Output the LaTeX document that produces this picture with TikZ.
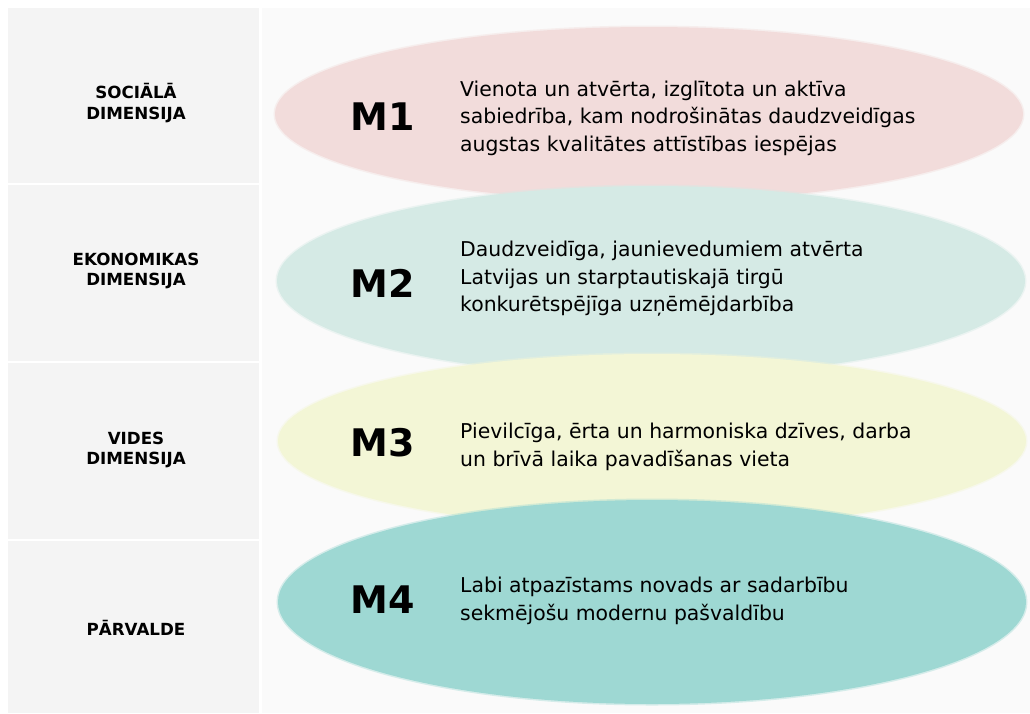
\documentclass[tikz,border=0pt]{standalone}
\usepackage{fontspec}
\setmainfont{DejaVu Sans}
\usetikzlibrary{shapes.geometric}
\definecolor{panelgrey}{HTML}{F4F4F4}
\definecolor{backgrey}{HTML}{FAFAFA}
\definecolor{rosefill}{HTML}{F2DCDB}
\definecolor{mintfill}{HTML}{D5EAE5}
\definecolor{limefill}{HTML}{F3F6D6}
\definecolor{tealfill}{HTML}{9ED8D3}
\begin{document}
\begin{tikzpicture}[x=1pt,y=-1pt,
  dimlabel/.style={font=\fontsize{16.7}{20.5}\selectfont\bfseries, align=center},
  goal/.style={ellipse, minimum width=748pt, minimum height=#1, inner sep=0pt},
  mlabel/.style={font=\fontsize{38}{40}\selectfont\bfseries},
  goaltext/.style={font=\fontsize{20.4}{27.5}\selectfont, align=left, anchor=west, inner sep=0pt}]
\useasboundingbox (0,0) rectangle (1030,713);
\fill[white] (0,0) rectangle (1030,713);
\fill[backgrey] (262,8) rectangle (1030,713);
% left column, one panel per dimension
\foreach \top/\bot in {8/183, 185/361, 363/539, 541/713}
  \fill[panelgrey] (8,\top) rectangle (259,\bot);
\node[dimlabel] (d1) at (136,103) {SOCIĀLĀ\\DIMENSIJA};
\node[dimlabel] (d2) at (136,271) {EKONOMIKAS\\DIMENSIJA};
\node[dimlabel] (d3) at (136,450) {VIDES\\DIMENSIJA};
\node[dimlabel] (d4) at (136,628) {PĀRVALDE};
% goal ellipses, later ones lie over earlier ones
\node[goal=174pt, fill=rosefill, draw=rosefill, draw opacity=.4, line width=3pt] (e1) at (649,114) {};
\node[goal=190pt, fill=mintfill, draw=mintfill, draw opacity=.4, line width=3pt] (e2) at (651,281) {};
\node[goal=174pt, fill=limefill, draw=limefill, draw opacity=.4, line width=3pt] (e3) at (652,441) {};
\node[goal=204pt, fill=tealfill, draw=tealfill, draw opacity=.4, line width=3pt] (e4) at (652,602) {};
\node[mlabel] (m1) at (383,117) {M1};
\node[mlabel] (m2) at (383,283) {M2};
\node[mlabel] (m3) at (383,443) {M3};
\node[mlabel] (m4) at (383,600) {M4};
\node[goaltext] (t1) at (460,118) {Vienota un atvērta, izglītota un aktīva\\sabiedrība, kam nodrošinātas daudzveidīgas\\augstas kvalitātes attīstības iespējas};
\node[goaltext] (t2) at (460,279) {Daudzveidīga, jaunievedumiem atvērta\\Latvijas un starptautiskajā tirgū\\konkurētspējīga uzņēmējdarbība};
\node[goaltext] (t3) at (460,447) {Pievilcīga, ērta un harmoniska dzīves, darba\\un brīvā laika pavadīšanas vieta};
\node[goaltext] (t4) at (460,601) {Labi atpazīstams novads ar sadarbību\\sekmējošu modernu pašvaldību};
\end{tikzpicture}
\end{document}
